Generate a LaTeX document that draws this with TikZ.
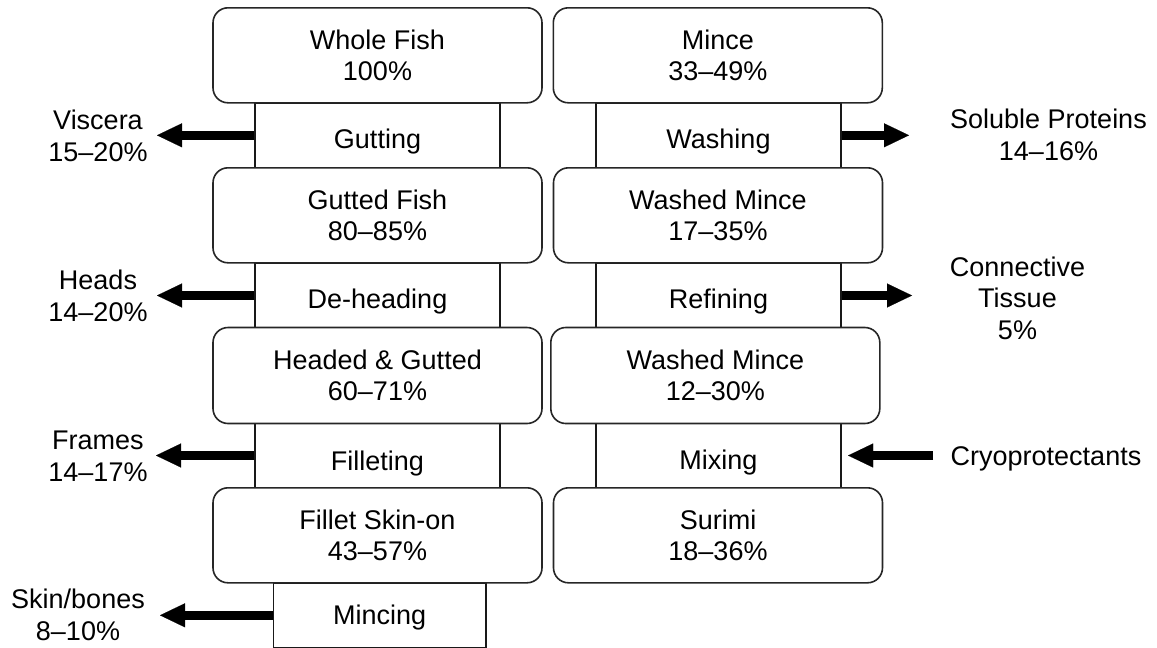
\documentclass[tikz,border=0pt]{standalone}
\usepackage{fontspec}
\setmainfont{Liberation Sans}
\usetikzlibrary{arrows.meta}
\tikzset{
  stage/.style={draw=black!85, line width=1.6pt, rounded corners=15pt, fill=white,
    minimum width=329pt, minimum height=95pt, inner sep=0pt, align=center,
    font=\fontsize{27}{31.5}\selectfont},
  process/.style={draw=black!90, line width=1.2pt, fill=white,
    minimum width=245pt, minimum height=64pt, inner sep=0pt,
    text height=#1, text depth=0pt, font=\fontsize{27}{31.5}\selectfont},
  side/.style={inner sep=0pt, align=center, anchor=base, font=\fontsize{27}{31.5}\selectfont},
  flow/.style={line width=8.5pt, -{Triangle[length=25pt,width=24pt,line width=0.1pt]}}
}
\begin{document}
\begin{tikzpicture}[x=1pt,y=-1pt]
\useasboundingbox (0,0) rectangle (1157,648);
% process rectangles (drawn first, stage boxes on top)
\node[process=26pt] (gut) at (377.5,135.3) {Gutting};
\node[process=26pt] (deh) at (377.5,295.5) {De-heading};
\node[process=30pt] (fil) at (377.5,455.5) {Filleting};
\node[process=18pt, minimum width=212.7pt] (minc) at (379.7,615.3) {Mincing};
\node[process=26pt] (wash) at (718.5,135.3) {Washing};
\node[process=26pt] (ref) at (718.5,295.5) {Refining};
\node[process=28pt] (mix) at (718.5,455.5) {Mixing};
% stage boxes
\node[stage] (wf) at (377.5,55.3) {Whole Fish\\100\%};
\node[stage] (gf) at (377.5,215.3) {Gutted Fish\\80–85\%};
\node[stage, minimum height=96pt] (hg) at (377.5,375.5) {Headed \& Gutted\\60–71\%};
\node[stage] (fs) at (377.5,535.3) {Fillet Skin-on\\43–57\%};
\node[stage] (mi) at (717.8,55.3) {Mince\\33–49\%};
\node[stage] (wm1) at (718,215.3) {Washed Mince\\17–35\%};
\node[stage, minimum height=96pt] (wm2) at (715.3,375.5) {Washed Mince\\12–30\%};
\node[stage] (su) at (718,535.3) {Surimi\\18–36\%};
% side labels (base = last line)
\node[side] (visc) at (98,161) {Viscera\\15–20\%};
\node[side] (heads) at (98,321) {Heads\\14–20\%};
\node[side] (frames) at (98,481) {Frames\\14–17\%};
\node[side] (skin) at (78,640) {Skin/bones\\8–10\%};
\node[side] (solp) at (1048.5,160) {Soluble Proteins\\14–16\%};
\node[side] (conn) at (1017.5,339) {Connective\\Tissue\\5\%};
\node[side, anchor=base west] (cryo) at (950.5,465.5) {Cryoprotectants};
% arrow end points
\coordinate (tV) at (157,135.3);
\coordinate (tH) at (157,295.5);
\coordinate (tF) at (156,455.5);
\coordinate (tS) at (160,615.3);
\coordinate (tW) at (909,135.3);
\coordinate (tR) at (912,295.5);
\coordinate (sC) at (933,455.5);
% flows
\draw[flow] (gut.west) -- (tV);
\draw[flow] (deh.west) -- (tH);
\draw[flow] (fil.west) -- (tF);
\draw[flow] (minc.west) -- (tS);
\draw[flow] (wash.east) -- (tW);
\draw[flow] (ref.east) -- (tR);
\draw[flow] (sC) -- ([xshift=6.5pt]mix.east);
\end{tikzpicture}
\end{document}
